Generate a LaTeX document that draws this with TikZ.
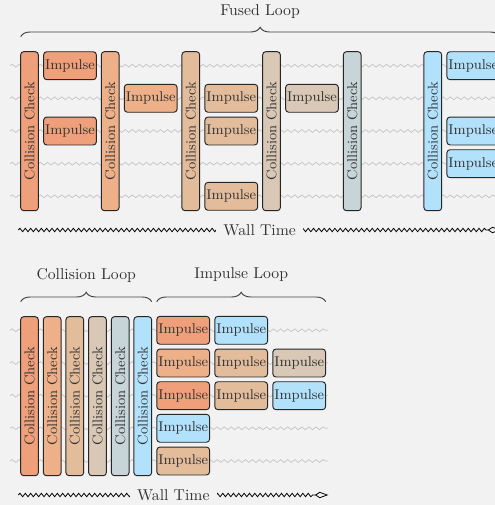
\documentclass[tikz,border=0pt]{standalone}
\usetikzlibrary{decorations.pathmorphing,decorations.pathreplacing,arrows.meta}
\definecolor{bg}{HTML}{F2F2F2}
\definecolor{cA}{HTML}{EFA07A}
\definecolor{cB}{HTML}{EDB089}
\definecolor{cC}{HTML}{E3BC9C}
\definecolor{cD}{HTML}{D8C8B5}
\definecolor{cE}{HTML}{C7D5D8}
\definecolor{cF}{HTML}{B2E1FC}
\definecolor{ink}{HTML}{333333}
\begin{document}
\begin{tikzpicture}[x=0.637pt,y=-0.637pt,
  box/.style={draw=black!85, rounded corners=2pt, line width=0.6pt, inner sep=0pt, font=\small, text=ink},
  cc/.style={box, minimum width=101.3pt, minimum height=11.3pt, rotate=90},
  imp/.style={box, minimum width=33.6pt, minimum height=17.8pt},
  rowline/.style={draw=black!22, line width=0.5pt, decorate, decoration={snake, amplitude=0.9pt, segment length=4.5pt}},
  wall/.style={draw=black, line width=0.5pt, decorate, decoration={snake, amplitude=1.1pt, segment length=3.4pt, post length=9pt}, -{Kite[open, length=8.5pt, width=4pt, inset=3pt]}},
  walllabel/.style={fill=bg, inner xsep=4.6pt, inner ysep=2pt, text=ink},
  brace/.style={draw=black!75, line width=0.6pt, decorate, decoration={brace, amplitude=6pt}},
  looplabel/.style={text=ink}]
\fill[bg] (0,0) rectangle (495,505);
\useasboundingbox (0,0) rectangle (495,505);

% ---------------- top: fused loop ----------------
\foreach \r/\y in {1/65.7,2/98.3,3/131,4/163.7,5/196.3}{
  \coordinate (tl\r) at (10,\y);
  \coordinate (tr\r) at (500,\y);
  \path[rowline] (tl\r) -- (tr\r);
}
\foreach \i/\x/\c in {1/29.5/cA,2/110.2/cB,3/190.8/cC,4/271.5/cD,5/352.2/cE,6/432.8/cF}{
  \node[cc, fill=\c] (tcc\i) at (\x,131.2) {Collision Check};
}
\node[imp, fill=cA] (ti11) at (70,65.7) {Impulse};
\node[imp, fill=cA] (ti13) at (70,131) {Impulse};
\node[imp, fill=cB] (ti22) at (150.7,98.3) {Impulse};
\node[imp, fill=cC] (ti32) at (231.3,98.3) {Impulse};
\node[imp, fill=cC] (ti33) at (231.3,131) {Impulse};
\node[imp, fill=cC] (ti35) at (231.3,196.3) {Impulse};
\node[imp, fill=cD] (ti42) at (312,98.3) {Impulse};
\node[imp, fill=cF] (ti61) at (473.3,65.7) {Impulse};
\node[imp, fill=cF] (ti63) at (473.3,131) {Impulse};
\node[imp, fill=cF] (ti64) at (473.3,163.7) {Impulse};

\coordinate (fbl) at (20.7,36.7);
\coordinate (fbr) at (499.6,36.7);
\draw[brace] (fbl) -- (fbr);
\node[looplabel] (fused) at (260,11.7) {Fused Loop};

\coordinate (tw1) at (18.3,230);
\coordinate (tw2) at (501,230);
\draw[wall] (tw1) -- node[walllabel] (twt) {Wall Time} (tw2);

% ---------------- bottom: split loops ----------------
\foreach \r/\y in {1/330.3,2/363,3/395.7,4/428.3,5/461}{
  \coordinate (bl\r) at (10,\y);
  \coordinate (br\r) at (328,\y);
  \path[rowline] (bl\r) -- (br\r);
}
\foreach \i/\x/\c in {1/29.5/cA,2/52.2/cB,3/74.8/cC,4/97.5/cD,5/120.2/cE,6/142.8/cF}{
  \node[cc, fill=\c] (bcc\i) at (\x,396.2) {Collision Check};
}
\node[imp, fill=cA] (bi11) at (183.2,330.3) {Impulse};
\node[imp, fill=cF] (bi12) at (241.2,330.3) {Impulse};
\node[imp, fill=cB] (bi21) at (183.2,363) {Impulse};
\node[imp, fill=cC] (bi22) at (241.2,363) {Impulse};
\node[imp, fill=cD] (bi23) at (299.2,363) {Impulse};
\node[imp, fill=cA] (bi31) at (183.2,395.7) {Impulse};
\node[imp, fill=cC] (bi32) at (241.2,395.7) {Impulse};
\node[imp, fill=cF] (bi33) at (299.2,395.7) {Impulse};
\node[imp, fill=cF] (bi41) at (183.2,428.3) {Impulse};
\node[imp, fill=cC] (bi51) at (183.2,461) {Impulse};

\coordinate (cbl) at (20.7,301.7);
\coordinate (cbr) at (151.7,301.7);
\draw[brace] (cbl) -- (cbr);
\node[looplabel] (cloop) at (86.2,275) {Collision Loop};
\coordinate (ibl) at (156.7,301.7);
\coordinate (ibr) at (325.7,301.7);
\draw[brace] (ibl) -- (ibr);
\node[looplabel] (iloop) at (241.2,275) {Impulse Loop};

\coordinate (bw1) at (18.3,495);
\coordinate (bw2) at (328.3,495);
\draw[wall] (bw1) -- node[walllabel] (bwt) {Wall Time} (bw2);
\end{tikzpicture}
\end{document}
